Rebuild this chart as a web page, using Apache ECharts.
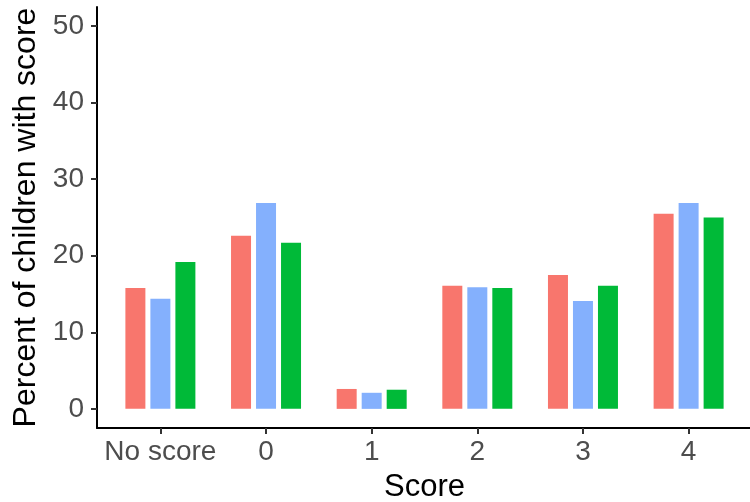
<!DOCTYPE html>
<html>
<head>
<meta charset="utf-8">
<script src="https://cdn.jsdelivr.net/npm/echarts@6/dist/echarts.min.js"></script>
<style>
html,body{margin:0;padding:0;background:#fff;}
#chart{width:750px;height:502px;}
</style>
</head>
<body>
<div id="chart"></div>
<script>
var categories = ['No score', '0', '1', '2', '3', '4'];
var seriesNames = ['Group 1', 'Group 2', 'Group 3'];
var redValues = [15.8, 22.6, 2.6, 16.1, 17.5, 25.5];
var blueValues = [14.4, 26.9, 2.1, 15.9, 14.1, 26.9];
var greenValues = [19.2, 21.7, 2.5, 15.8, 16.1, 25.0];
var yTicks = [0, 10, 20, 30, 40, 50];
var colors = ['#F8766D', '#84B0FD', '#00BA38'];

var xTicks = categories.map(function (c, i) { return i; });
function toPairs(arr) { return arr.map(function (v, i) { return [i, v]; }); }
var allValues = [redValues, blueValues, greenValues];

var font = '"Liberation Sans", Arial, sans-serif';
var chart = echarts.init(document.getElementById('chart'), null, {renderer: 'canvas'});
chart.setOption({
  animation: false,
  backgroundColor: '#fff',
  grid: {left: 97, right: -2, top: 7, bottom: 74, containLabel: false, outerBoundsMode: 'none'},
  xAxis: {
    type: 'value',
    min: -0.6,
    max: 5.6,
    name: 'Score',
    nameLocation: 'middle',
    nameGap: 44,
    nameTextStyle: {color: '#000', fontSize: 31, fontFamily: font},
    axisLine: {show: true, onZero: false, lineStyle: {color: '#000', width: 2}},
    axisTick: {show: true, length: 6, customValues: xTicks, lineStyle: {color: '#333', width: 2}},
    axisLabel: {
      customValues: xTicks,
      margin: 10,
      color: '#4D4D4D',
      fontSize: 28,
      fontFamily: font,
      formatter: function (v) { return categories[Math.round(v)]; }
    },
    splitLine: {show: false}
  },
  yAxis: {
    type: 'value',
    min: -2.5,
    max: 52.5,
    name: 'Percent of children with score',
    nameLocation: 'middle',
    nameGap: 55,
    nameRotate: 90,
    nameTextStyle: {color: '#000', fontSize: 32, fontFamily: font},
    axisLine: {show: true, onZero: false, lineStyle: {color: '#000', width: 2}},
    axisTick: {show: true, length: 6, customValues: yTicks, lineStyle: {color: '#333', width: 2}},
    axisLabel: {
      customValues: yTicks,
      margin: 13,
      color: '#4D4D4D',
      fontSize: 28,
      fontFamily: font
    },
    splitLine: {show: false}
  },
  series: allValues.map(function (vals, k) {
    return {
      name: seriesNames[k],
      type: 'bar',
      barWidth: 20,
      barGap: '25%',
      itemStyle: {color: colors[k]},
      data: toPairs(vals)
    };
  })
});
</script>
</body>
</html>
